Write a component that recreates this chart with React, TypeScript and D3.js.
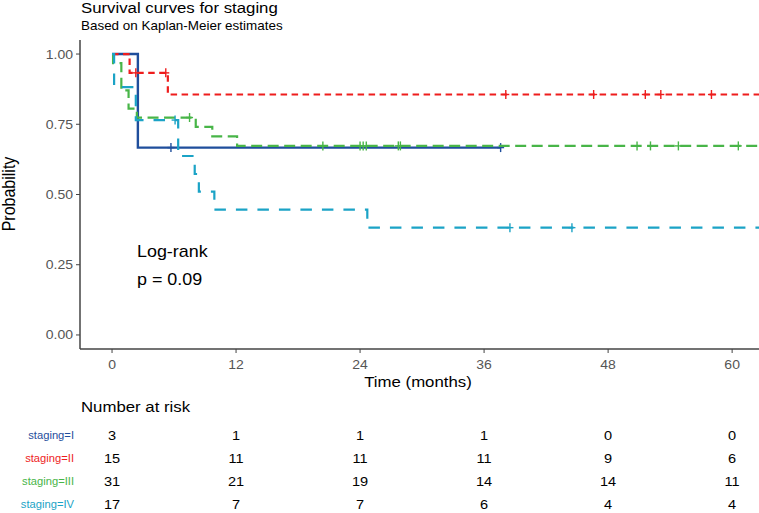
import React from 'react';
import * as d3 from 'd3';

// strata, in drawing order
const strata = ['staging=I', 'staging=II', 'staging=III', 'staging=IV'];
const colors = ['#1f4e9c', '#ee1d1d', '#48b548', '#1ba3c6'];
const dashes = ['none', '6.5 4.5', '11 5.5', '11.5 10'];

// Kaplan-Meier step points (months, survival) per stratum
const stepTimesI = [0, 2.5];
const stepSurvI = [1, 0.667];
const stepTimesII = [0, 1.7, 5.4];
const stepSurvII = [1, 0.933, 0.856];
const stepTimesIII = [0, 0.1, 0.9, 1.6, 2.4, 8.1, 9.7, 12.1];
const stepSurvIII = [1, 0.968, 0.871, 0.806, 0.774, 0.741, 0.707, 0.673];
const stepTimesIV = [0, 0.2, 2.3, 6.4, 8.0, 8.4, 9.9, 24.7];
const stepSurvIV = [1, 0.882, 0.765, 0.637, 0.573, 0.51, 0.446, 0.382];

// censoring times
const censorI = [5.7, 37.6];
const censorII = [2.3, 5.2, 38.1, 46.6, 51.6, 53.1, 58.0];
const censorIII = [7.5, 20.4, 24.0, 24.3, 24.6, 27.7, 27.9, 50.8, 52.1, 54.8, 60.6];
const censorIV = [6.1, 38.5, 44.5];

// last follow-up time per stratum
const followUpEnd = [37.6, 64, 64, 64];

// number at risk table
const riskTimes = [0, 12, 24, 36, 48, 60];
const riskI = [3, 1, 1, 1, 0, 0];
const riskII = [15, 11, 11, 11, 9, 6];
const riskIII = [31, 21, 19, 14, 14, 11];
const riskIV = [17, 7, 7, 6, 4, 4];

const yTicks = [0, 0.25, 0.5, 0.75, 1];
const xTicks = [0, 12, 24, 36, 48, 60];

const W = 759;
const H = 513;
const panel = { left: 80, right: 759, top: 40, bottom: 349 };
const SX = 1.12; // text is drawn slightly wide

const T: React.FC<{
  x: number;
  y: number;
  size: number;
  fill?: string;
  anchor?: 'start' | 'middle' | 'end';
  rotate?: number;
  children: React.ReactNode;
}> = ({ x, y, size, fill = '#000', anchor = 'start', rotate = 0, children }) => (
  <text
    transform={`translate(${x},${y}) rotate(${rotate}) scale(${rotate ? 1 : SX},${rotate ? SX : 1})`}
    fontSize={size}
    fill={fill}
    textAnchor={anchor}
    fontFamily="'Liberation Sans', Arial, sans-serif"
  >
    {children}
  </text>
);

const App: React.FC = () => {
  const x = d3.scaleLinear().domain([-3.1, 62.6]).range([panel.left, panel.right]);
  const y = d3.scaleLinear().domain([-0.05, 1.05]).range([panel.bottom, panel.top]);

  const times = [stepTimesI, stepTimesII, stepTimesIII, stepTimesIV];
  const survs = [stepSurvI, stepSurvII, stepSurvIII, stepSurvIV];
  const censors = [censorI, censorII, censorIII, censorIV];
  const risks = [riskI, riskII, riskIII, riskIV];

  const line = d3
    .line<[number, number]>()
    .x((d) => x(d[0]))
    .y((d) => y(d[1]))
    .curve(d3.curveStepAfter);

  const survAt = (ts: number[], ss: number[], t: number) => {
    const i = d3.bisectRight(ts, t) - 1;
    return ss[Math.max(0, i)];
  };

  const rowY = d3.scaleBand().domain(strata).range([424, 516]);

  return (
    <svg
      width={W}
      height={H}
      style={{ position: 'absolute', left: 0, top: 0, background: '#fff' }}
    >
      <defs>
        <clipPath id="panel">
          <rect
            x={panel.left}
            y={panel.top - 5}
            width={panel.right - panel.left}
            height={panel.bottom - panel.top + 5}
          />
        </clipPath>
      </defs>

      <T x={81} y={13} size={15}>Survival curves for staging</T>
      <T x={81} y={30} size={12}>Based on Kaplan-Meier estimates</T>

      {/* curves */}
      <g clipPath="url(#panel)">
        {strata.map((s, k) => {
          const pts: [number, number][] = times[k].map((t, i) => [t, survs[k][i]]);
          pts.push([followUpEnd[k], survs[k][survs[k].length - 1]]);
          return (
            <g key={s}>
              <path
                d={line(pts) || ''}
                fill="none"
                stroke={colors[k]}
                strokeWidth={k === 0 ? 2.4 : 2.2}
                strokeDasharray={dashes[k]}
              />
              {censors[k].map((c, j) => {
                const cx = x(c);
                const cy = y(survAt(times[k], survs[k], c));
                return (
                  <g key={j} stroke={colors[k]} strokeWidth={1.4}>
                    <line x1={cx} x2={cx} y1={cy - 4.5} y2={cy + 4.5} />
                    <line x1={cx - 3.5} x2={cx + 3.5} y1={cy} y2={cy} />
                  </g>
                );
              })}
            </g>
          );
        })}
      </g>

      {/* axes */}
      <line x1={panel.left} x2={panel.left} y1={panel.top} y2={panel.bottom} stroke="#444" strokeWidth={1.5} />
      <line x1={panel.left} x2={panel.right} y1={panel.bottom} y2={panel.bottom} stroke="#444" strokeWidth={1.5} />
      {yTicks.map((t) => (
        <g key={t}>
          <line x1={panel.left - 4} x2={panel.left} y1={y(t)} y2={y(t)} stroke="#444" />
          <T x={panel.left - 7} y={y(t) + 4.5} size={12.5} fill="#555" anchor="end">
            {d3.format('.2f')(t)}
          </T>
        </g>
      ))}
      {xTicks.map((t) => (
        <g key={t}>
          <line x1={x(t)} x2={x(t)} y1={panel.bottom} y2={panel.bottom + 4} stroke="#444" />
          <T x={x(t)} y={panel.bottom + 20} size={12.5} fill="#555" anchor="middle">
            {t}
          </T>
        </g>
      ))}
      <T x={418} y={387} size={15} anchor="middle">Time (months)</T>
      <T x={15} y={194} size={16} anchor="middle" rotate={-90}>Probability</T>

      <T x={137} y={257} size={16}>Log-rank</T>
      <T x={137} y={285} size={16}>p = 0.09</T>

      {/* number at risk */}
      <T x={81} y={412} size={15}>Number at risk</T>
      {strata.map((s, k) => {
        const cy = (rowY(s) as number) + rowY.bandwidth() / 2;
        return (
          <g key={s}>
            <T x={74} y={cy + 3.5} size={10} fill={colors[k]} anchor="end">{s}</T>
            {riskTimes.map((t, i) => (
              <T key={t} x={x(t)} y={cy + 4.8} size={13} anchor="middle">
                {risks[k][i]}
              </T>
            ))}
          </g>
        );
      })}
    </svg>
  );
};

export default App;
